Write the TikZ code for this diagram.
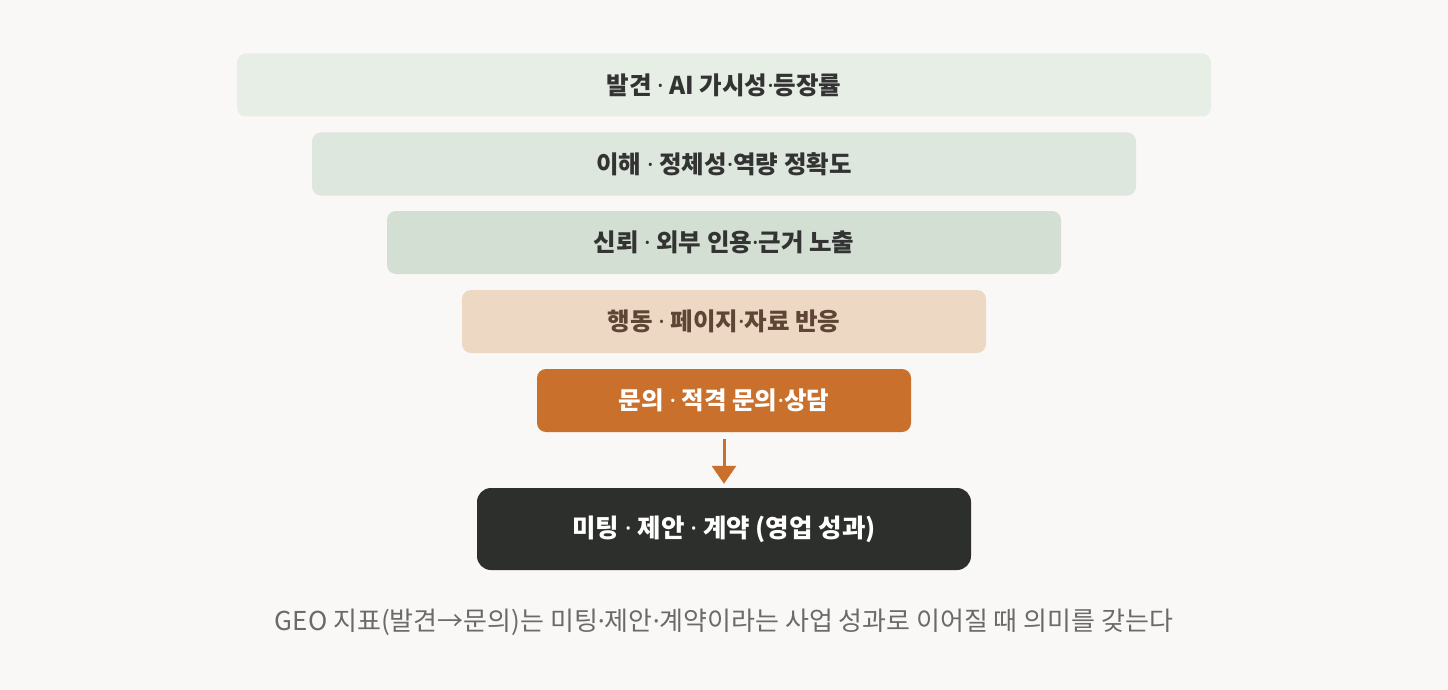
\documentclass[tikz,border=0pt]{standalone}
\usepackage{fontspec}
\setmainfont{Noto Sans CJK KR}
\newfontfamily\latinf{Noto Sans}
\newcommand\mydot{{\latinf\symbol{"00B7}}}
\usetikzlibrary{arrows.meta}
\definecolor{bg}{HTML}{F9F8F6}
\definecolor{barA}{HTML}{E7EEE6}
\definecolor{barB}{HTML}{DEE7DD}
\definecolor{barC}{HTML}{D3DFD3}
\definecolor{barD}{HTML}{EDD9C3}
\definecolor{barE}{HTML}{C9702D}
\definecolor{darkbox}{HTML}{2D2F2C}
\definecolor{txtdark}{HTML}{333333}
\definecolor{txtbrown}{HTML}{5E4535}
\definecolor{captxt}{HTML}{6A6A6A}
\tikzset{
  bar/.style={rectangle, rounded corners=9pt, minimum height=63pt, inner sep=0pt, font=\bfseries\fontsize{24.5}{28}\selectfont},
}
\begin{document}
\begin{tikzpicture}[x=1pt,y=-1pt]
\fill[bg] (0,0) rectangle (1448,690);
\useasboundingbox (0,0) rectangle (1448,690);
\node[bar, fill=barA, minimum width=974pt, text=txtdark] (b1) at (724,85) {발견 \mydot{} AI 가시성\mydot 등장률};
\node[bar, fill=barB, minimum width=824pt, text=txtdark] (b2) at (724,164) {이해 \mydot{} 정체성\mydot 역량 정확도};
\node[bar, fill=barC, minimum width=674pt, text=txtdark] (b3) at (724,242.5) {신뢰 \mydot{} 외부 인용\mydot 근거 노출};
\node[bar, fill=barD, minimum width=524pt, text=txtbrown] (b4) at (724,321.5) {행동 \mydot{} 페이지\mydot 자료 반응};
\node[bar, fill=barE, minimum width=374pt, text=white] (b5) at (724,400.5) {문의 \mydot{} 적격 문의\mydot 상담};
\node[bar, fill=darkbox, minimum width=494pt, minimum height=82pt, rounded corners=14pt, text=white, font=\bfseries\fontsize{25.5}{29}\selectfont] (res) at (724,529) {미팅 \mydot{} 제안 \mydot{} 계약 (영업 성과)};
\draw[barE, line width=3pt, -{Triangle[width=24pt,length=18pt]}, shorten <=7pt, shorten >=4pt] (b5.south) -- (res.north);
\node[text=captxt, font=\fontsize{26}{30}\selectfont] (cap) at (724,622) {GEO 지표(발견→문의)는 미팅\mydot 제안\mydot 계약이라는 사업 성과로 이어질 때 의미를 갖는다};
\end{tikzpicture}
\end{document}
